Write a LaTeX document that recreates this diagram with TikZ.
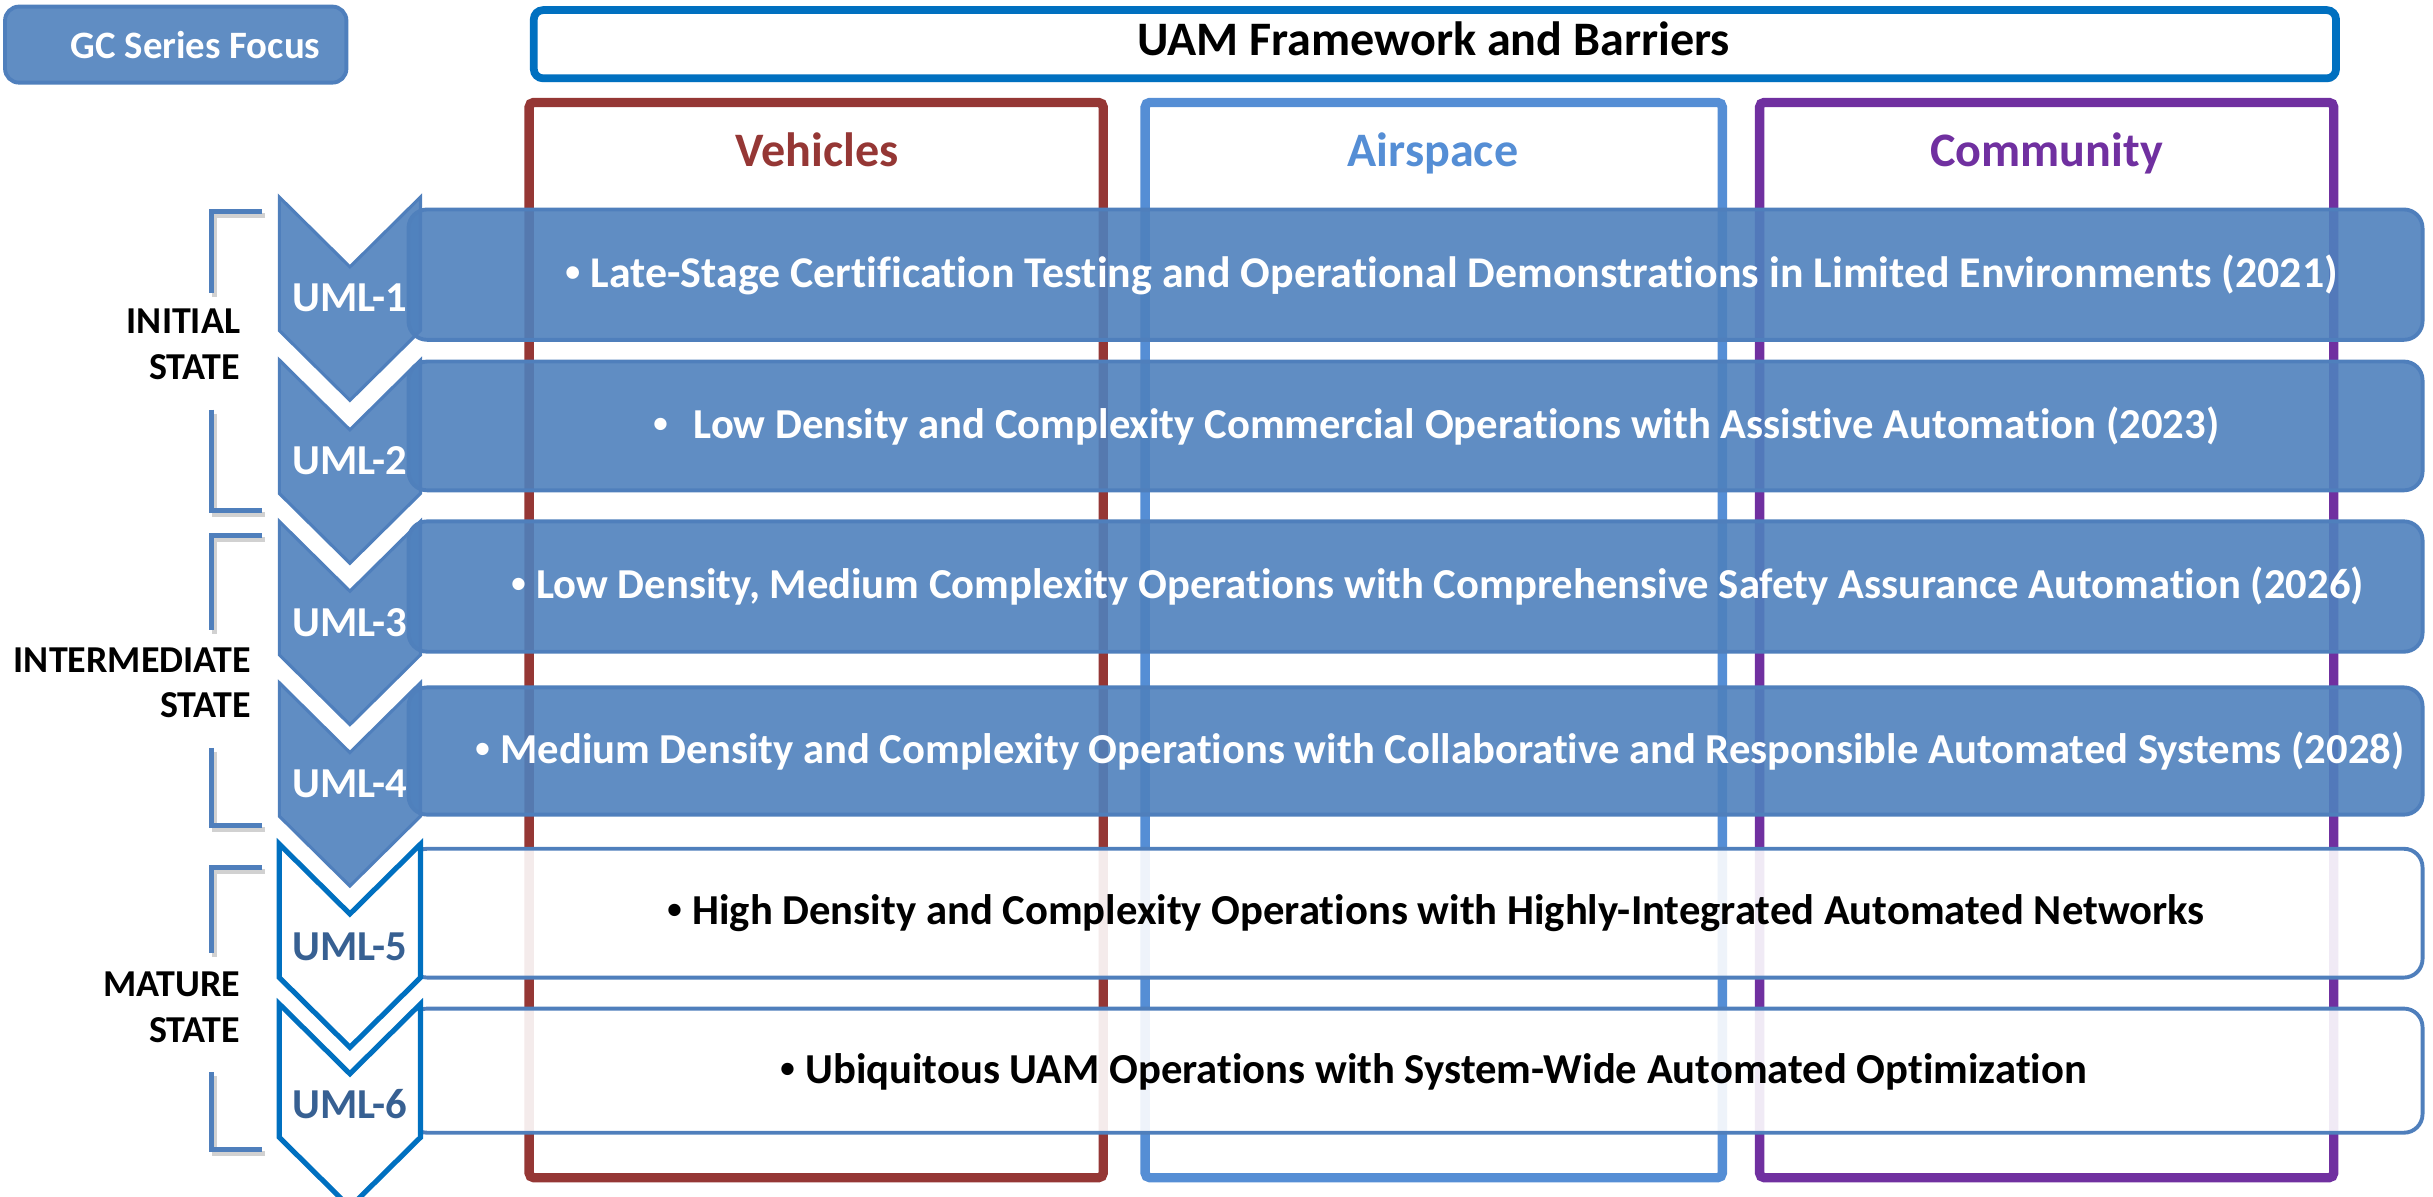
\documentclass[tikz,border=0pt]{standalone}
\usepackage{fontspec}
\setmainfont{Carlito}[Ligatures=NoCommon]
\newfontfamily\bulfont{Liberation Sans}
\usetikzlibrary{shadows}
\definecolor{accent}{RGB}{79,129,189}
\definecolor{barline}{RGB}{79,127,188}
\definecolor{uamblue}{RGB}{0,112,192}
\definecolor{vehred}{RGB}{149,55,53}
\definecolor{airblue}{RGB}{85,142,213}
\definecolor{compurple}{RGB}{112,48,160}
\definecolor{umltext}{RGB}{55,96,146}
\newcommand{\bul}{{\bulfont •}}
\begin{document}
\begin{tikzpicture}[x=1pt,y=-1pt,
  colbox/.style={draw=#1, line width=6pt, rounded corners=3pt},
  coltitle/.style={text=#1, font=\fontsize{31}{36}\selectfont\bfseries, anchor=base, inner sep=0pt},
  barbase/.style={rounded corners=12pt, line width=2.5pt, draw=barline, fill opacity=0.9, text opacity=1,
     anchor=west, minimum width=1298pt, inner sep=0pt},
  barfilled/.style={barbase, fill=accent},
  barwhite/.style={barbase, fill=white},
  rowtext/.style={font=\fontsize{27.5}{32}\selectfont\bfseries, anchor=base, inner sep=0pt, text=#1},
  chevfilled/.style={fill=accent, fill opacity=0.9, draw=barline, line width=2pt},
  chevwhite/.style={fill=white, draw=uamblue, line width=3.3pt},
  chev/.pic={\path[pic actions] (-45.5,0) -- (0,45) -- (45.5,0) -- (45.5,86) -- (0,131) -- (-45.5,86) -- cycle;},
  umllabel/.style={font=\fontsize{27.5}{30}\selectfont\bfseries, anchor=base, inner sep=0pt, text=#1},
  bracket/.style={draw=barline, line width=3.3pt},
  bracketshadow/.style={draw=black, opacity=0.18, line width=3.3pt},
  statelabel/.style={font=\fontsize{24.5}{29.5}\selectfont\bfseries, align=right, anchor=north east, inner sep=0pt}
]
\useasboundingbox (0,0) rectangle (1568,771.4);
\clip (0,0) rectangle (1568,771.4);

% header boxes
\node[draw=barline, fill=accent, fill opacity=0.9, text opacity=1, line width=2.5pt, rounded corners=9pt, minimum width=220pt, minimum height=49pt, anchor=north west, inner sep=0pt] (gcbox) at (2,3) {};
\node[font=\fontsize{25}{30}\selectfont\bfseries, text=white, anchor=base, inner sep=0pt] (gctext) at (126,37.6) {GC Series Focus};

\node[draw=uamblue, fill=white, line width=5pt, rounded corners=6pt, minimum width=1161.5pt, minimum height=44pt, anchor=north west, inner sep=0pt,
      drop shadow={opacity=0.25, shadow xshift=1pt, shadow yshift=-2.5pt}] (uambox) at (341.5,4) {};
\node[font=\fontsize{31}{36}\selectfont\bfseries, anchor=base, inner sep=0pt] (uamtext) at (924,35.5) {UAM Framework and Barriers};

% columns
\draw[colbox=vehred] (341,66) rectangle (711,759);
\draw[colbox=airblue] (738,66) rectangle (1110,759);
\draw[colbox=compurple] (1134,66) rectangle (1504,759);
\node[coltitle=vehred] (veh) at (526.5,107) {Vehicles};
\node[coltitle=airblue] (air) at (923.5,107) {Airspace};
\node[coltitle=compurple] (com) at (1319,107) {Community};

% bars
\node[barfilled, minimum height=84pt] (bar1) at (262,177) {};
\node[barfilled, minimum height=83pt] (bar2) at (262,274.5) {};
\node[barfilled, minimum height=84pt] (bar3) at (262,378) {};
\node[barfilled, minimum height=82pt] (bar4) at (262,484) {};
\node[barwhite, minimum height=83pt] (bar5) at (262,588.5) {};
\node[barwhite, minimum height=80pt] (bar6) at (262,690) {};

\node[rowtext=white, font=\fontsize{28.3}{32}\selectfont\bfseries] (t1) at (935.5,185) {\bul{} Late-Stage Certification Testing and Operational Demonstrations in Limited Environments (2021)};
\node[rowtext=white] (t2) at (925.5,282.5) {\bul\hspace{0.6em}Low Density and Complexity Commercial Operations with Assistive Automation (2023)};
\node[rowtext=white] (t3) at (926.5,386) {\bul{} Low Density, Medium Complexity Operations with Comprehensive Safety Assurance Automation (2026)};
\node[rowtext=white] (t4) at (928,492) {\bul{} Medium Density and Complexity Operations with Collaborative and Responsible Automated Systems (2028)};
\node[rowtext=black] (t5) at (925.5,596) {\bul{} High Density and Complexity Operations with Highly-Integrated Automated Networks};
\node[rowtext=black] (t6) at (924,698) {\bul{} Ubiquitous UAM Operations with System-Wide Automated Optimization};

% chevrons
\pic[chevfilled] at (225.5,127) {chev};
\pic[chevfilled] at (225.5,232) {chev};
\pic[chevfilled] at (225.5,336) {chev};
\pic[chevfilled] at (225.5,440) {chev};
\pic[chevwhite] at (225.5,544) {chev};
\pic[chevwhite] at (225.5,647) {chev};
\node[umllabel=white] (u1) at (225.5,201) {UML-1};
\node[umllabel=white] (u2) at (225.5,306) {UML-2};
\node[umllabel=white] (u3) at (225.5,410) {UML-3};
\node[umllabel=white] (u4) at (225.5,514) {UML-4};
\node[umllabel=umltext] (u5) at (225.5,619) {UML-5};
\node[umllabel=umltext] (u6) at (225.5,721) {UML-6};

% brackets
\foreach \ta/\tb/\bb/\bc in {136.5/189/264/329, 345/406/482/532, 559/614/691/741}{
  \draw[bracketshadow] (170.5,\ta+2.5) -- (138.5,\ta+2.5) -- (138.5,\tb+2.5);
  \draw[bracketshadow] (138.5,\bb+2.5) -- (138.5,\bc+2.5) -- (170.5,\bc+2.5);
  \draw[bracket] (169,\ta) -- (136.5,\ta) -- (136.5,\tb);
  \draw[bracket] (136.5,\bb) -- (136.5,\bc) -- (169,\bc);
}
\node[statelabel] (s1) at (155,199) {INITIAL\\STATE};
\node[statelabel] (s2) at (162,417) {INTERMEDIATE\\STATE};
\node[statelabel] (s3) at (155,626) {MATURE\\STATE};
\end{tikzpicture}
\end{document}
